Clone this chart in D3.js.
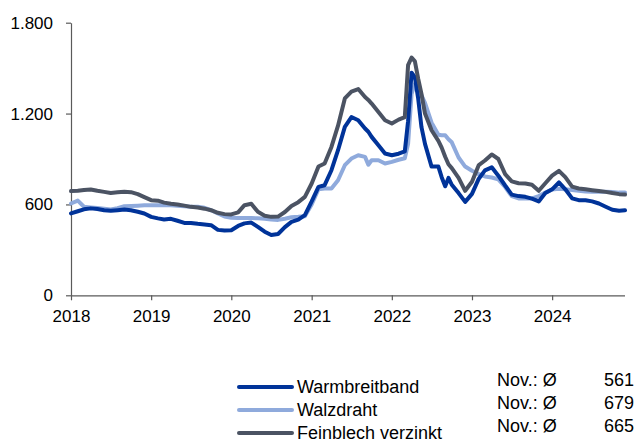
<!DOCTYPE html>
<html>
<head>
<meta charset="utf-8">
<script src="https://cdn.jsdelivr.net/npm/d3@7"></script>
<style>
  html, body { margin: 0; padding: 0; background: #fff; }
  svg { display: block; }
  text { font-family: "Liberation Sans", Arial, sans-serif; fill: #000; }
</style>
</head>
<body>
<svg id="chart" width="638" height="443"></svg>
<script>
// Stichtage (Monatsanfang, um Preisspitzen verdichtet)
const dates = [
  "2018-01-01","2018-02-01","2018-03-01","2018-04-01","2018-05-01","2018-06-01",
  "2018-07-01","2018-08-01","2018-09-01","2018-10-01","2018-11-01","2018-12-01",
  "2019-01-01","2019-02-01","2019-03-01","2019-04-01","2019-05-01","2019-06-01",
  "2019-07-01","2019-08-01","2019-09-01","2019-10-01","2019-11-01","2019-12-01",
  "2020-01-01","2020-02-01","2020-03-01","2020-04-01","2020-05-01","2020-06-01",
  "2020-07-01","2020-08-01","2020-09-01","2020-10-01","2020-11-01","2020-12-01",
  "2021-01-01","2021-02-01","2021-03-01","2021-04-01","2021-05-01","2021-06-01",
  "2021-07-01","2021-08-01","2021-09-01","2021-09-16","2021-10-01","2021-11-01","2021-12-01",
  "2022-01-01","2022-02-01","2022-03-01","2022-03-16","2022-04-01","2022-04-16",
  "2022-05-01","2022-05-16","2022-06-01","2022-07-01","2022-08-01","2022-08-16",
  "2022-09-01","2022-09-16","2022-10-01","2022-11-01","2022-12-01",
  "2023-01-01","2023-02-01","2023-03-01","2023-04-01","2023-05-01","2023-06-01",
  "2023-07-01","2023-08-01","2023-09-01","2023-10-01","2023-11-01","2023-12-01",
  "2024-01-01","2024-02-01","2024-03-01","2024-04-01","2024-05-01","2024-06-01",
  "2024-07-01","2024-08-01","2024-09-01","2024-10-01","2024-11-01","2024-11-28"
];

// Preise in EUR/t
const warmbreitband = [
  541,555,568,574,570,562,558,562,567,562,552,540,
  518,508,501,505,492,478,478,472,468,463,432,428,
  430,458,475,480,452,420,398,405,450,485,500,530,
  620,716,727,826,958,1112,1177,1156,1101,1080,1046,991,936,
  925,935,950,1150,1470,1440,1300,1110,1000,850,850,780,
  720,775,730,675,617,
  670,770,825,845,790,725,665,655,650,638,620,675,
  700,745,700,640,628,628,620,606,585,565,558,561
];
const walzdraht = [
  606,625,585,580,576,572,567,575,588,590,592,594,
  595,595,595,595,592,588,584,584,578,562,540,520,
  512,510,510,510,508,505,500,498,505,515,518,522,
  600,700,705,705,760,859,903,925,914,862,892,892,870,
  881,895,905,1000,1330,1395,1370,1320,1270,1140,1060,1057,
  1057,1030,1010,910,850,
  822,800,785,778,765,715,655,640,639,640,655,678,
  698,704,700,695,690,685,683,683,683,682,678,679
];
const feinblechVerzinkt = [
  688,690,695,699,690,683,676,680,683,681,668,648,
  628,625,612,604,600,592,584,580,572,562,545,536,
  534,548,595,604,551,525,518,520,550,590,615,650,
  738,850,870,980,1120,1300,1345,1362,1309,1290,1266,1210,1156,
  1134,1160,1177,1520,1570,1545,1430,1330,1200,1090,1020,975,
  915,865,840,775,690,
  750,860,890,930,900,800,752,740,738,730,690,740,
  790,822,780,718,705,700,694,688,683,675,668,665
];

const seriesNames = ["Warmbreitband", "Walzdraht", "Feinblech verzinkt"];
const seriesColors = ["#003399", "#8faadc", "#4b5363"];
const novAverages = [561, 679, 665];
const yTicks = [0, 600, 1200, 1800];
const yearTicks = ["2018","2019","2020","2021","2022","2023","2024"];

const parse = d3.timeParse("%Y-%m-%d");
const parsedDates = dates.map(parse);
const seriesValues = [warmbreitband, walzdraht, feinblechVerzinkt];

const de = d3.formatLocale({ decimal: ",", thousands: ".", grouping: [3], currency: ["", " €"] });
const fmt = de.format(",.0f");

const svg = d3.select("#chart");
const plot = { left: 71, right: 625.7, top: 22.7, bottom: 295.3 };

const x = d3.scaleTime()
  .domain([parse("2018-01-01"), parse("2024-12-01")])
  .range([plot.left, plot.right]);
const y = d3.scaleLinear().domain([0, 1800]).range([plot.bottom, plot.top]);

const axisColor = "#5a5a5a";

// y-Achse
const yAxis = svg.append("g")
  .attr("transform", `translate(${plot.left},0)`)
  .call(d3.axisLeft(y).tickValues(yTicks).tickFormat(fmt).tickSize(5).tickSizeOuter(0).tickPadding(13));
// x-Achse
const xAxis = svg.append("g")
  .attr("transform", `translate(0,${plot.bottom})`)
  .call(d3.axisBottom(x)
    .tickValues(yearTicks.map(t => parse(t + "-01-01")))
    .tickFormat(d3.timeFormat("%Y"))
    .tickSize(5).tickSizeOuter(0).tickPadding(10));

[yAxis, xAxis].forEach(g => {
  g.select(".domain").attr("stroke", axisColor).attr("stroke-width", 1.2);
  g.selectAll(".tick line").attr("stroke", axisColor).attr("stroke-width", 1.2);
  g.selectAll(".tick text").attr("font-size", 17)
    .attr("font-family", "'Liberation Sans', Arial, sans-serif").attr("fill", "#000");
});
xAxis.select(".domain").attr("d", `M${plot.left},0.5H625`);

// Linien (Walzdraht zuerst, dann Warmbreitband, Feinblech oben)
const line = d3.line().x((d, i) => x(parsedDates[i])).y(d => y(d)).curve(d3.curveLinear);
const drawOrder = [1, 0, 2];
svg.append("g").selectAll("path")
  .data(drawOrder)
  .join("path")
  .attr("d", i => line(seriesValues[i]))
  .attr("fill", "none")
  .attr("stroke", i => seriesColors[i])
  .attr("stroke-width", 4)
  .attr("stroke-linejoin", "round")
  .attr("stroke-linecap", "round");

// Legende mit Novemberdurchschnitt
const legendRowsY = [387, 410, 433];
const legend = svg.append("g");
seriesNames.forEach((name, i) => {
  const cy = legendRowsY[i];
  legend.append("line")
    .attr("x1", 239).attr("x2", 292)
    .attr("y1", cy).attr("y2", cy)
    .attr("stroke", seriesColors[i]).attr("stroke-width", 4)
    .attr("stroke-linecap", "round");
  legend.append("text")
    .attr("x", 297).attr("y", cy + 5.8)
    .attr("font-size", 18)
    .text(name);
  legend.append("text")
    .attr("x", 497).attr("y", cy - 1)
    .attr("font-size", 18)
    .text("Nov.: Ø");
  legend.append("text")
    .attr("x", 634).attr("y", cy - 1)
    .attr("font-size", 18)
    .attr("text-anchor", "end")
    .text(fmt(novAverages[i]));
});
</script>
</body>
</html>
